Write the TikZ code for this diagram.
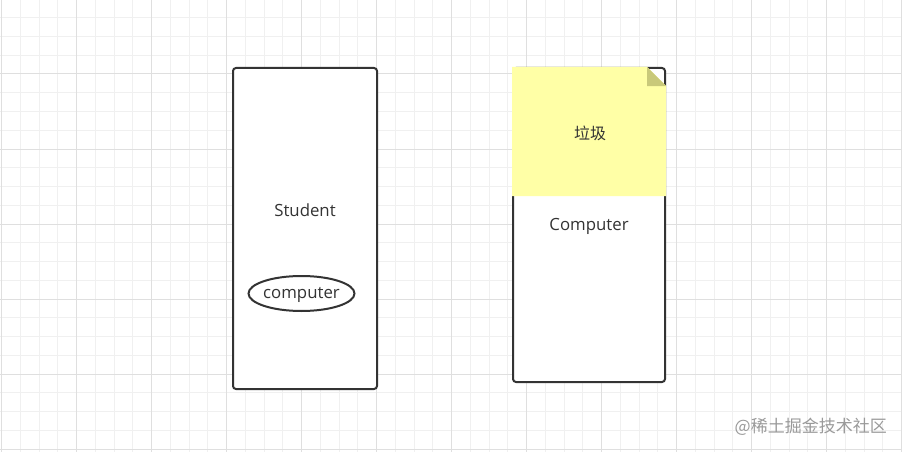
\documentclass[tikz,border=0pt]{standalone}
\usepackage{fontspec}
\setmainfont{Open Sans}
\newfontfamily\cjk{Noto Sans CJK SC}
\usetikzlibrary{shapes.geometric,calc}
\definecolor{minorg}{HTML}{F0F0F0}
\definecolor{majorg}{HTML}{DFDFDF}
\definecolor{edge}{HTML}{333333}
\definecolor{noteyellow}{HTML}{FFFFA6}
\definecolor{notefold}{HTML}{C9C97A}
\definecolor{wm}{HTML}{9A9A9A}
\begin{document}
\begin{tikzpicture}[x=1pt,y=-1pt,
  minorline/.style={draw=minorg,line width=1pt},
  majorline/.style={draw=majorg,line width=1pt},
  boxshape/.style={draw=edge,line width=2pt,rounded corners=3pt,fill=white,inner sep=0pt},
  oval/.style={ellipse,draw=edge,line width=2pt,inner sep=0pt,minimum width=106pt,minimum height=35pt},
  lbl/.style={font=\fontsize{16.8}{19}\selectfont,text=edge,inner sep=0pt},
  cjklbl/.style={font=\cjk\fontsize{16}{18}\selectfont,text=edge,inner sep=0pt}]
\useasboundingbox (0,0) rectangle (902,452);
\fill[white] (0,0) rectangle (902,452);
% grid
\foreach \i in {0,...,48} {
  \pgfmathsetmacro{\xx}{1.5+18.75*\i}
  \draw[minorline] (\xx,0) -- (\xx,452);
}
\foreach \i in {1,...,24} {
  \pgfmathsetmacro{\yy}{-1+18.75*\i}
  \draw[minorline] (0,\yy) -- (902,\yy);
}
\foreach \i in {0,4,...,48} {
  \pgfmathsetmacro{\xx}{1.5+18.75*\i}
  \draw[majorline] (\xx,0) -- (\xx,452);
}
\foreach \i in {4,8,...,24} {
  \pgfmathsetmacro{\yy}{-1+18.75*\i}
  \draw[majorline] (0,\yy) -- (902,\yy);
}
% left box
\node[boxshape,minimum width=144pt,minimum height=321pt] (student) at (305,228.5) {};
\node[lbl] (studenttxt) at (305,210) {Student};
\node[oval] (comp) at (301.5,293.5) {};
\node[lbl] (comptxt) at (301.5,295) {computer};
% right box
\node[boxshape,minimum width=152pt,minimum height=314pt] (computer) at (589,225) {};
\coordinate (nw) at (computer.north west);
\coordinate (ne) at (computer.north east);
\coordinate (foldA) at ($(ne)+(-19,0)$);
\coordinate (foldB) at ($(ne)+(0,19)$);
\coordinate (foldC) at ($(ne)+(-19,19)$);
\coordinate (sw) at ($(nw)+(0,129)$);
\coordinate (se) at ($(ne)+(0,129)$);
\fill[noteyellow] (nw) -- (foldA) -- (foldB) -- (se) -- (sw) -- cycle;
\fill[notefold] (foldA) -- (foldC) -- (foldB) -- cycle;
\node[cjklbl] (notetxt) at (590,133.5) {垃圾};
\node[lbl] (computertxt) at (589,226.5) {Computer};
% watermark
\node[font=\cjk\fontsize{17}{19}\selectfont,text=wm,inner sep=0pt,anchor=east] (wmk) at (887,427) {@稀土掘金技术社区};
\end{tikzpicture}
\end{document}
